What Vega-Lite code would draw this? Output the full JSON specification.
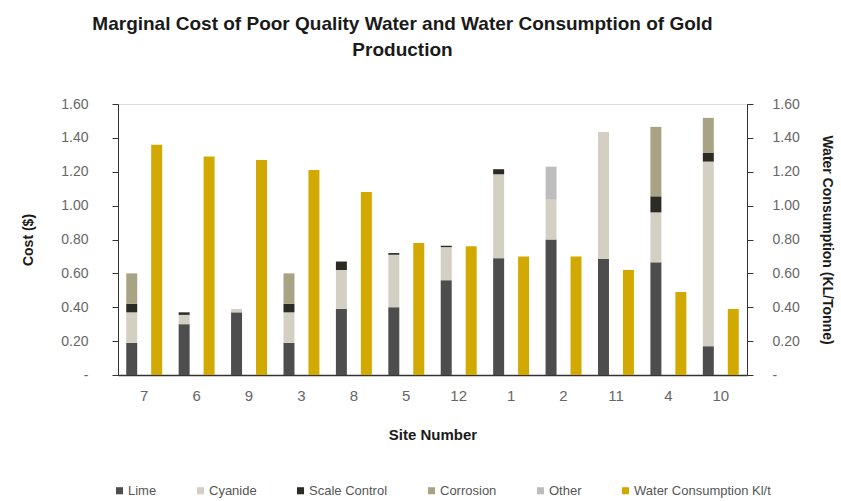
{
  "$schema": "https://vega.github.io/schema/vega-lite/v6.json",
  "width": 629,
  "height": 271,
  "autosize": "none",
  "padding": {"left": 118, "top": 104, "right": 94, "bottom": 126},
  "background": "white",
  "title": {
    "text": ["Marginal Cost of Poor Quality Water and Water Consumption of Gold", "Production"],
    "font": "Liberation Sans",
    "fontSize": 19,
    "fontWeight": "bold",
    "color": "#1a1a1a",
    "anchor": "middle",
    "dx": -30,
    "offset": 37,
    "lineHeight": 26
  },
  "data": {
    "values": [
      {"site": "7", "series": "cost", "component": "Lime", "value": 0.19},
      {"site": "7", "series": "cost", "component": "Cyanide", "value": 0.18},
      {"site": "7", "series": "cost", "component": "Scale Control", "value": 0.05},
      {"site": "7", "series": "cost", "component": "Corrosion", "value": 0.18},
      {"site": "7", "series": "water", "component": "Water Consumption Kl/t", "value": 1.36},
      {"site": "6", "series": "cost", "component": "Lime", "value": 0.30},
      {"site": "6", "series": "cost", "component": "Cyanide", "value": 0.055},
      {"site": "6", "series": "cost", "component": "Scale Control", "value": 0.015},
      {"site": "6", "series": "water", "component": "Water Consumption Kl/t", "value": 1.29},
      {"site": "9", "series": "cost", "component": "Lime", "value": 0.37},
      {"site": "9", "series": "cost", "component": "Cyanide", "value": 0.02},
      {"site": "9", "series": "water", "component": "Water Consumption Kl/t", "value": 1.27},
      {"site": "3", "series": "cost", "component": "Lime", "value": 0.19},
      {"site": "3", "series": "cost", "component": "Cyanide", "value": 0.18},
      {"site": "3", "series": "cost", "component": "Scale Control", "value": 0.05},
      {"site": "3", "series": "cost", "component": "Corrosion", "value": 0.18},
      {"site": "3", "series": "water", "component": "Water Consumption Kl/t", "value": 1.21},
      {"site": "8", "series": "cost", "component": "Lime", "value": 0.39},
      {"site": "8", "series": "cost", "component": "Cyanide", "value": 0.23},
      {"site": "8", "series": "cost", "component": "Scale Control", "value": 0.05},
      {"site": "8", "series": "water", "component": "Water Consumption Kl/t", "value": 1.08},
      {"site": "5", "series": "cost", "component": "Lime", "value": 0.40},
      {"site": "5", "series": "cost", "component": "Cyanide", "value": 0.31},
      {"site": "5", "series": "cost", "component": "Scale Control", "value": 0.01},
      {"site": "5", "series": "water", "component": "Water Consumption Kl/t", "value": 0.78},
      {"site": "12", "series": "cost", "component": "Lime", "value": 0.56},
      {"site": "12", "series": "cost", "component": "Cyanide", "value": 0.195},
      {"site": "12", "series": "cost", "component": "Scale Control", "value": 0.008},
      {"site": "12", "series": "water", "component": "Water Consumption Kl/t", "value": 0.76},
      {"site": "1", "series": "cost", "component": "Lime", "value": 0.69},
      {"site": "1", "series": "cost", "component": "Cyanide", "value": 0.495},
      {"site": "1", "series": "cost", "component": "Scale Control", "value": 0.03},
      {"site": "1", "series": "water", "component": "Water Consumption Kl/t", "value": 0.70},
      {"site": "2", "series": "cost", "component": "Lime", "value": 0.80},
      {"site": "2", "series": "cost", "component": "Cyanide", "value": 0.235},
      {"site": "2", "series": "cost", "component": "Other", "value": 0.195},
      {"site": "2", "series": "water", "component": "Water Consumption Kl/t", "value": 0.70},
      {"site": "11", "series": "cost", "component": "Lime", "value": 0.685},
      {"site": "11", "series": "cost", "component": "Cyanide", "value": 0.75},
      {"site": "11", "series": "water", "component": "Water Consumption Kl/t", "value": 0.62},
      {"site": "4", "series": "cost", "component": "Lime", "value": 0.665},
      {"site": "4", "series": "cost", "component": "Cyanide", "value": 0.295},
      {"site": "4", "series": "cost", "component": "Scale Control", "value": 0.095},
      {"site": "4", "series": "cost", "component": "Corrosion", "value": 0.41},
      {"site": "4", "series": "water", "component": "Water Consumption Kl/t", "value": 0.49},
      {"site": "10", "series": "cost", "component": "Lime", "value": 0.17},
      {"site": "10", "series": "cost", "component": "Cyanide", "value": 1.09},
      {"site": "10", "series": "cost", "component": "Scale Control", "value": 0.053},
      {"site": "10", "series": "cost", "component": "Corrosion", "value": 0.205},
      {"site": "10", "series": "water", "component": "Water Consumption Kl/t", "value": 0.39}
    ]
  },
  "transform": [
    {"calculate": "indexof(['Lime','Cyanide','Scale Control','Corrosion','Other','Water Consumption Kl/t'], datum.component)", "as": "ord"}
  ],
  "encoding": {
    "x": {
      "field": "site",
      "type": "nominal",
      "sort": ["7", "6", "9", "3", "8", "5", "12", "1", "2", "11", "4", "10"],
      "scale": {"paddingInner": 0, "paddingOuter": 0},
      "axis": {
        "title": "Site Number",
        "titleFont": "Liberation Sans",
        "titleFontSize": 15,
        "titleFontWeight": "bold",
        "titleColor": "#1a1a1a",
        "titlePadding": 24,
        "labelAngle": 0,
        "labelFont": "Liberation Sans",
        "labelFontSize": 15,
        "labelColor": "#666",
        "labelPadding": 13,
        "ticks": false,
        "domainColor": "#333",
        "domainWidth": 1.5
      }
    },
    "xOffset": {
      "field": "series",
      "type": "nominal",
      "scale": {"domain": ["cost", "water"], "paddingInner": 0.56, "paddingOuter": 0.33}
    },
    "color": {
      "field": "component",
      "type": "nominal",
      "scale": {
        "domain": ["Lime", "Cyanide", "Scale Control", "Corrosion", "Other", "Water Consumption Kl/t"],
        "range": ["#4d4d4d", "#d3d0c3", "#2b2a25", "#a8a384", "#bdbdbd", "#d2a900"]
      },
      "legend": {
        "title": null,
        "orient": "none",
        "legendX": -5,
        "legendY": 380,
        "direction": "horizontal",
        "columns": 6,
        "columnPadding": 37,
        "symbolType": "square",
        "symbolSize": 50,
        "symbolStrokeWidth": 0,
        "labelFont": "Liberation Sans",
        "labelFontSize": 13,
        "labelColor": "#555",
        "labelOffset": 2
      }
    }
  },
  "layer": [
    {
      "transform": [{"filter": "datum.series === 'cost'"}],
      "mark": {"type": "bar"},
      "encoding": {
        "y": {
          "field": "value",
          "type": "quantitative",
          "stack": "zero",
          "scale": {"domain": [0, 1.6]},
          "axis": {
            "title": "Cost ($)",
            "titleFont": "Liberation Sans",
            "titleFontSize": 14,
            "titleFontWeight": "bold",
            "titleColor": "#1a1a1a",
            "titlePadding": 25,
            "values": [0, 0.2, 0.4, 0.6, 0.8, 1.0, 1.2, 1.4, 1.6],
            "labelExpr": "datum.value == 0 ? '-' : format(datum.value, '.2f')",
            "labelFont": "Liberation Sans",
            "labelFontSize": 14,
            "labelColor": "#666",
            "labelPadding": 24,
            "tickSize": 6,
            "tickColor": "#333",
            "domainColor": "#333",
            "grid": false
          }
        },
        "order": {"field": "ord", "type": "quantitative"}
      }
    },
    {
      "transform": [{"filter": "datum.series === 'water'"}],
      "mark": {"type": "bar"},
      "encoding": {
        "y": {
          "field": "value",
          "type": "quantitative",
          "scale": {"domain": [0, 1.6]},
          "axis": {
            "orient": "right",
            "title": "Water Consumption (KL/Tonne)",
            "titleFont": "Liberation Sans",
            "titleFontSize": 14,
            "titleFontWeight": "bold",
            "titleColor": "#1a1a1a",
            "titlePadding": 20,
            "values": [0, 0.2, 0.4, 0.6, 0.8, 1.0, 1.2, 1.4, 1.6],
            "labelExpr": "datum.value == 0 ? '-' : format(datum.value, '.2f')",
            "labelFont": "Liberation Sans",
            "labelFontSize": 14,
            "labelColor": "#666",
            "labelPadding": 19,
            "tickSize": 6,
            "tickColor": "#333",
            "domainColor": "#333",
            "grid": false
          }
        }
      }
    }
  ],
  "resolve": {"scale": {"y": "independent"}}
}
